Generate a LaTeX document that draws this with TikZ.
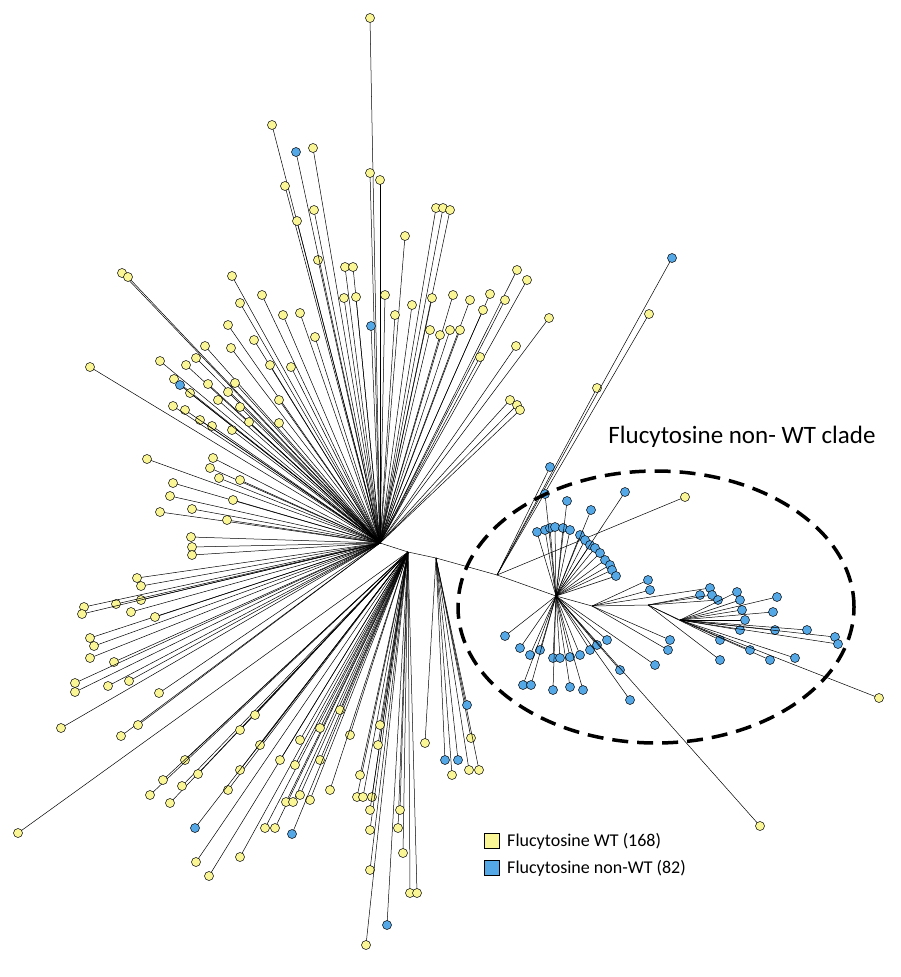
\documentclass[tikz,border=0pt]{standalone}
\usepackage{fontspec}
\setmainfont{Carlito}
\definecolor{wty}{RGB}{250,246,150}
\definecolor{nwb}{RGB}{85,168,230}
\tikzset{x=1pt,y=-1pt,
 br/.style={line width=0.5pt},
 ly/.style={circle,draw,line width=0.5pt,fill=wty,inner sep=0pt,minimum size=9pt},
 lb/.style={ly,fill=nwb}}
\begin{document}
\begin{tikzpicture}
\useasboundingbox (0,0) rectangle (900,977);
\coordinate (hA) at (380,543);
\coordinate (hB) at (408,552);
\coordinate (hC) at (436,558);
\coordinate (hD) at (497,575);
\coordinate (hE) at (556,596);
\coordinate (hF) at (592,606);
\coordinate (hG) at (648,605);
\coordinate (hH) at (680,620);
\draw[br] (hA)--(hB)--(hC)--(hD)--(hE)--(hF)--(hG)--(hH);
% hub A, yellow
\foreach[count=\i] \x/\y in {370/18,272/125,313/148,285/186,314/210,370/173,380/180,405/236,436/208,443/208,450/210,345/267,353/267,356/297,297/221,318/260,232/276,262/295,240/303,283/315,300/313,315/337,344/298,385/295,395/315,412/305,432/298,453/295,470/300,460/330,430/330,440/335,450/330,517/270,527/280,505/300,490/294,483/310,549/318,516/346,480/357,228/325,254/340,231/348,270/365,291/367,205/346,196/358,186/365,160/361,174/379,190/393,208/384,235/383,228/392,218/400,240/407,279/400,279/423,249/422,232/430,212/426,200/420,185/410,173/406,122/273,128/277,90/367,147/459,213/458,210/468,219/478,240/480,173/483,170/496,233/500,160/512,192/509,227/520,191/537,192/547,192/555,137/578,141/586,141/600,116/604,84/607,90/638,82/614,131/612,155/617,94/646,90/658,114/662,108/686,75/683,75/692,159/693,61/728,121/736,138/725,129/681,510/400,517/405,520/410}
{\coordinate (a\i) at (\x,\y); \draw[br] (hA)--(a\i); \node[ly] at (a\i) {};}
\foreach[count=\i] \x/\y in {296/152,371/326,180/385}
{\coordinate (ab\i) at (\x,\y); \draw[br] (hA)--(ab\i); \node[lb] at (ab\i) {};}
% hub B
\foreach[count=\i] \x/\y in {18/833,196/862,209/876,240/857,265/828,275/828,286/802,293/802,310/800,170/803,182/786,198/774,185/760,150/795,163/780,228/790,240/770,260/745,280/760,300/740,320/728,300/795,357/797,363/797,372/797,370/830,370/810,370/870,366/945,410/893,417/893,398/828,403/853,400/810,350/735,360/775,378/745,330/790,295/765,320/760,240/730,255/715,340/710,380/725}
{\coordinate (b\i) at (\x,\y); \draw[br] (hB)--(b\i); \node[ly] at (b\i) {};}
\foreach[count=\i] \x/\y in {195/828,292/834,387/925}
{\coordinate (bb\i) at (\x,\y); \draw[br] (hB)--(bb\i); \node[lb] at (bb\i) {};}
% hub C
\foreach[count=\i] \x/\y in {452/775,471/738,469/770,479/770,425/743}
{\coordinate (c\i) at (\x,\y); \draw[br] (hC)--(c\i); \node[ly] at (c\i) {};}
\foreach[count=\i] \x/\y in {467/705,445/760,458/760}
{\coordinate (cb\i) at (\x,\y); \draw[br] (hC)--(cb\i); \node[lb] at (cb\i) {};}
% hub D
\foreach[count=\i] \x/\y in {649/314,597/388,685/497}
{\coordinate (d\i) at (\x,\y); \draw[br] (hD)--(d\i); \node[ly] at (d\i) {};}
\foreach[count=\i] \x/\y in {672/258,550/467}
{\coordinate (db\i) at (\x,\y); \draw[br] (hD)--(db\i); \node[lb] at (db\i) {};}
% hub E
\foreach[count=\i] \x/\y in {537/532,545/530,550/528,555/527,563/528,570/530,580/535,585/540,590/545,595/548,600/553,605/560,610/565,612/570,616/576,545/494,567/501,591/510,625/492,520/648,530/655,540/650,553/658,560/658,570/657,580/655,590/650,597/645,607/640,523/685,531/685,553/690,570/687,583/690,505/636,620/670,630/700,655/665}
{\coordinate (e\i) at (\x,\y); \draw[br] (hE)--(e\i); \node[lb] at (e\i) {};}
\coordinate (ey) at (760,826); \draw[br] (hE)--(ey); \node[ly] at (ey) {};
% hub F, G, H
\foreach[count=\i] \x/\y in {650/590,648/580,670/640,668/650,710/588}
{\coordinate (f\i) at (\x,\y); \draw[br] (hF)--(f\i); \node[lb] at (f\i) {};}
\foreach[count=\i] \x/\y in {700/595,712/595,718/600,720/640,720/660}
{\coordinate (g\i) at (\x,\y); \draw[br] (hG)--(g\i); \node[lb] at (g\i) {};}
\foreach[count=\i] \x/\y in {737/592,740/600,742/610,745/620,777/597,773/612,775/630,740/630,795/658,835/637,838/644,807/630,770/660,750/650}
{\coordinate (h\i) at (\x,\y); \draw[br] (hH)--(h\i); \node[lb] at (h\i) {};}
\coordinate (hy) at (879,698); \draw[br] (hH)--(hy); \node[ly] at (hy) {};
% clade
\draw[line width=3.5pt,dash pattern=on 16pt off 9pt] (656,607) ellipse [x radius=198pt,y radius=136pt];
\node (clade) at (742,437) {\fontsize{25}{30}\selectfont Flucytosine non- WT clade};
% legend
\node[draw,fill=wty,minimum size=15pt,inner sep=0pt] (ky) at (492,841) {};
\node[draw,fill=nwb,minimum size=15pt,inner sep=0pt] (kb) at (492,868) {};
\node[anchor=west] at ([xshift=4pt]ky.east) {\fontsize{18}{21}\selectfont Flucytosine WT (168)};
\node[anchor=west] at ([xshift=4pt]kb.east) {\fontsize{18}{21}\selectfont Flucytosine non-WT (82)};
\end{tikzpicture}
\end{document}
